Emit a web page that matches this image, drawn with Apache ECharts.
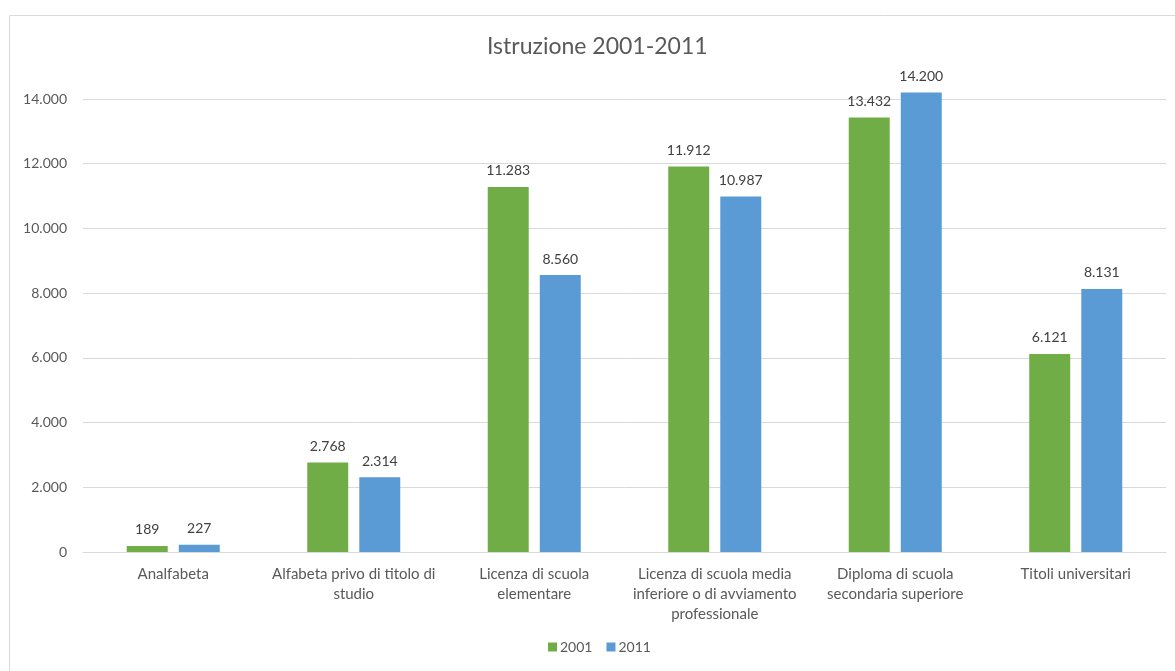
<!DOCTYPE html>
<html>
<head>
<meta charset="utf-8">
<script src="https://cdn.jsdelivr.net/npm/echarts@6/dist/echarts.min.js"></script>
<style>
  html, body { margin: 0; padding: 0; background: #fff; }
  #chart { width: 1175px; height: 671px; }
</style>
</head>
<body>
<div id="chart"></div>
<script>
// categorie (con a capo come nel grafico originale)
const categories = [
  'Analfabeta',
  'Alfabeta privo di titolo di\nstudio',
  'Licenza di scuola\nelementare',
  'Licenza di scuola media\ninferiore o di avviamento\nprofessionale',
  'Diploma di scuola\nsecondaria superiore',
  'Titoli universitari'
];
const values2001 = [189, 2768, 11283, 11912, 13432, 6121];
const values2011 = [227, 2314, 8560, 10987, 14200, 8131];
const seriesNames = ['2001', '2011'];

const FONT = 'Lato, "Liberation Sans", sans-serif';
const TEXT = '#595959';

// 14200 -> "14.200"
function fmt(v) {
  return String(v).replace(/\B(?=(\d{3})+(?!\d))/g, '.');
}

const chart = echarts.init(document.getElementById('chart'));

const barLabel = {
  show: true,
  position: 'top',
  distance: 9,
  color: '#404040',
  fontFamily: FONT,
  fontSize: 14,
  formatter: p => fmt(p.value)
};

chart.setOption({
  animation: false,
  textStyle: { fontFamily: FONT },
  title: {
    text: 'Istruzione 2001-2011',
    left: 482,
    top: 30,
    textStyle: { color: TEXT, fontSize: 23, fontWeight: 'normal', fontFamily: FONT }
  },
  graphic: [{
    type: 'rect',
    shape: { x: 9.5, y: 15.5, width: 1200, height: 700 },
    style: { fill: null, stroke: '#d9d9d9', lineWidth: 1 },
    silent: true
  }],
  legend: {
    data: seriesNames,
    bottom: 12,
    left: 543,
    itemWidth: 9,
    itemHeight: 9,
    itemGap: 14,
    icon: 'rect',
    textStyle: { color: TEXT, fontSize: 14, fontFamily: FONT, padding: [0, 0, 0, -2] }
  },
  grid: { left: 83, right: 9, top: 99, bottom: 119 },
  xAxis: {
    type: 'category',
    data: categories,
    axisLine: { lineStyle: { color: '#d9d9d9', width: 1 } },
    axisTick: { show: false },
    axisLabel: {
      color: TEXT,
      fontSize: 15,
      fontFamily: FONT,
      lineHeight: 20,
      margin: 12,
      interval: 0
    }
  },
  yAxis: {
    type: 'value',
    min: 0,
    max: 14000,
    interval: 2000,
    axisLine: { show: false },
    axisTick: { show: false },
    splitLine: { lineStyle: { color: '#d9d9d9' } },
    axisLabel: {
      color: TEXT,
      fontSize: 14,
      fontFamily: FONT,
      margin: 16,
      formatter: v => fmt(v)
    }
  },
  series: [
    {
      name: seriesNames[0],
      type: 'bar',
      data: values2001,
      barWidth: '22.7%',
      barGap: '27%',
      clip: false,
      itemStyle: { color: '#70AD47' },
      label: barLabel
    },
    {
      name: seriesNames[1],
      type: 'bar',
      data: values2011,
      barWidth: '22.7%',
      barGap: '27%',
      clip: false,
      itemStyle: { color: '#5B9BD5' },
      label: barLabel
    }
  ]
});
</script>
</body>
</html>
